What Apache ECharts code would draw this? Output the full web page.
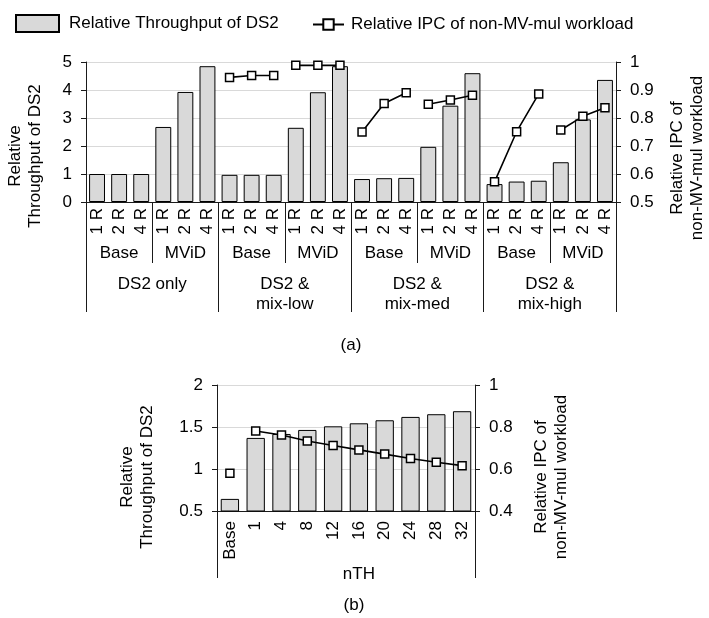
<!DOCTYPE html>
<html><head><meta charset="utf-8">
<script src="https://cdn.jsdelivr.net/npm/echarts@6/dist/echarts.min.js"></script>
<style>html,body{margin:0;padding:0;background:#fff}#c{width:709px;height:618px}</style>
</head><body><div id="c"></div>
<script>
const FONT = '"Liberation Sans", Arial, sans-serif';
const FS = 17;
const INK = '#000';
const AXIS = '#1a1a1a';
const GRIDC = '#d9d9d9';
const BARC = '#d9d9d9';

// ---- chart (a) ----
const replicaLabels = ['1 R', '2 R', '4 R'];
const modeLabels = ['Base', 'MViD'];
const workloadLabels = ['DS2 only', 'DS2 &\nmix-low', 'DS2 &\nmix-med', 'DS2 &\nmix-high'];
const throughputA = [1.00, 1.00, 1.00, 2.68, 3.93, 4.85,
                     0.97, 0.97, 0.97, 2.65, 3.92, 4.85,
                     0.82, 0.85, 0.86, 1.97, 3.44, 4.60,
                     0.64, 0.73, 0.76, 1.42, 2.95, 4.36];
const ipcLowBase  = [0.945, 0.952, 0.952];
const ipcLowMvid  = [0.988, 0.988, 0.988];
const ipcMedBase  = [0.750, 0.852, 0.890];
const ipcMedMvid  = [0.849, 0.864, 0.881];
const ipcHighBase = [0.572, 0.751, 0.886];
const ipcHighMvid = [0.757, 0.806, 0.837];

// ---- chart (b) ----
const nthLabels = ['Base', '1', '4', '8', '12', '16', '20', '24', '28', '32'];
const throughputB = [0.644, 1.37, 1.417, 1.465, 1.508, 1.544, 1.58, 1.62, 1.652, 1.688];
const ipcBBase = [0.58];
const ipcBNth = [0.781, 0.762, 0.733, 0.712, 0.691, 0.671, 0.65, 0.632, 0.616];

const NAME_BAR = 'Relative Throughput of DS2';
const NAME_LINE = 'Relative IPC of non-MV-mul workload';

// build category lists
const catsA = [];
workloadLabels.forEach(() => modeLabels.forEach(() => replicaLabels.forEach(r => catsA.push(r))));
const modesA = [];
workloadLabels.forEach(() => modeLabels.forEach(m => modesA.push(m)));

function placed(len, parts) {
  const arr = new Array(len).fill(null);
  parts.forEach(([start, vals]) => vals.forEach((v, i) => { arr[start + i] = v; }));
  return arr;
}
const ipcBaseSeriesA = placed(24, [[6, ipcLowBase], [12, ipcMedBase], [18, ipcHighBase]]);
const ipcMvidSeriesA = placed(24, [[9, ipcLowMvid], [15, ipcMedMvid], [21, ipcHighMvid]]);
const ipcBaseSeriesB = placed(10, [[0, ipcBBase]]);
const ipcNthSeriesB = placed(10, [[1, ipcBNth]]);
const nthNameCats = nthLabels.map((_, i) => i === 5 ? 'nTH' : '');

const txt = { color: INK, fontFamily: FONT, fontSize: FS };

const lineCommon = {
  type: 'line', name: NAME_LINE, symbol: 'rect', symbolSize: 8,
  connectNulls: false,
  lineStyle: { color: '#000', width: 1.6 },
  itemStyle: { color: '#fff', borderColor: '#000', borderWidth: 1.5 },
  z: 5
};
const barCommon = {
  type: 'bar', name: NAME_BAR,
  itemStyle: { color: BARC, borderColor: '#000', borderWidth: 1 }
};

const yAxisCommon = (extra) => Object.assign({
  type: 'value',
  axisLine: { show: true, lineStyle: { color: AXIS, width: 1 } },
  axisTick: { show: true, length: 5, lineStyle: { color: AXIS } },
  axisLabel: Object.assign({ margin: 14 }, txt),
  splitLine: { show: false }
}, extra);

const option = {
  animation: false,
  backgroundColor: '#fff',
  textStyle: { fontFamily: FONT },
  legend: [
    { data: [NAME_BAR], left: 15, top: 14, padding: 0, icon: 'rect', itemWidth: 43, itemHeight: 17,
      textStyle: Object.assign({ padding: [0, 0, 0, 5] }, txt) },
    { data: [NAME_LINE], left: 312, top: 16, padding: 0, itemWidth: 31, itemHeight: 13,
      textStyle: Object.assign({ padding: [0, 0, 0, 2] }, txt) }
  ],
  grid: [
    { left: 86, top: 62, width: 530, height: 140, containLabel: false, outerBoundsMode: 'none' },
    { left: 217, top: 385, width: 258, height: 126, containLabel: false, outerBoundsMode: 'none' }
  ],
  xAxis: [
    { // 0: replicas
      type: 'category', gridIndex: 0, data: catsA, position: 'bottom',
      axisLine: { show: true, lineStyle: { color: AXIS, width: 1 } },
      axisTick: { show: false },
      axisLabel: Object.assign({ interval: 0, rotate: 90, margin: 6 }, txt)
    },
    { // 1: Base / MViD
      type: 'category', gridIndex: 0, data: modesA, position: 'bottom',
      axisLine: { show: false },
      axisTick: { show: true, interval: 0, length: 61, lineStyle: { color: AXIS } },
      axisLabel: Object.assign({ interval: 0, margin: 41, lineHeight: 20 }, txt)
    },
    { // 2: workloads
      type: 'category', gridIndex: 0, data: workloadLabels, position: 'bottom',
      axisLine: { show: false },
      axisTick: { show: true, interval: 0, length: 110, lineStyle: { color: AXIS } },
      axisLabel: Object.assign({ interval: 0, margin: 72, lineHeight: 20 }, txt)
    },
    { // 3: nTH values
      type: 'category', gridIndex: 1, data: nthLabels, position: 'bottom',
      axisLine: { show: true, lineStyle: { color: AXIS, width: 1 } },
      axisTick: { show: false },
      axisLabel: Object.assign({ interval: 0, rotate: 90, margin: 10 }, txt)
    },
    { // 4: separator + nTH name
      type: 'category', gridIndex: 1, data: nthNameCats, position: 'bottom',
      axisLine: { show: false },
      axisTick: { show: true, interval: (i) => i === 1, length: 67, lineStyle: { color: AXIS } },
      splitLine: { show: true, interval: (i) => i === 1, lineStyle: { color: AXIS, width: 1 } },
      axisLabel: Object.assign({ interval: 0, margin: 55 }, txt)
    }
  ],
  yAxis: [
    yAxisCommon({ gridIndex: 0, position: 'left', min: 0, max: 5, interval: 1,
      splitLine: { show: true, lineStyle: { color: GRIDC, width: 1 } } }),
    yAxisCommon({ gridIndex: 0, position: 'right', min: 0.5, max: 1, interval: 0.1 }),
    yAxisCommon({ gridIndex: 1, position: 'left', min: 0.5, max: 2, interval: 0.5,
      splitLine: { show: true, lineStyle: { color: GRIDC, width: 1 } } }),
    yAxisCommon({ gridIndex: 1, position: 'right', min: 0.4, max: 1, interval: 0.2 })
  ],
  series: [
    Object.assign({}, barCommon, { xAxisIndex: 0, yAxisIndex: 0, data: throughputA, barCategoryGap: '28%' }),
    Object.assign({}, lineCommon, { xAxisIndex: 0, yAxisIndex: 1, data: ipcBaseSeriesA }),
    Object.assign({}, lineCommon, { xAxisIndex: 0, yAxisIndex: 1, data: ipcMvidSeriesA }),
    Object.assign({}, barCommon, { xAxisIndex: 3, yAxisIndex: 2, data: throughputB, barCategoryGap: '29%' }),
    Object.assign({}, lineCommon, { xAxisIndex: 3, yAxisIndex: 3, data: ipcBaseSeriesB }),
    Object.assign({}, lineCommon, { xAxisIndex: 3, yAxisIndex: 3, data: ipcNthSeriesB })
  ],
  graphic: [
    { type: 'text', x: 25, y: 156, rotation: Math.PI / 2,
      style: { text: 'Relative\nThroughput of DS2', font: FS + 'px ' + FONT, fill: INK, align: 'center', verticalAlign: 'middle', lineHeight: 20 } },
    { type: 'text', x: 687, y: 158, rotation: Math.PI / 2,
      style: { text: 'Relative IPC of\nnon-MV-mul workload', font: FS + 'px ' + FONT, fill: INK, align: 'center', verticalAlign: 'middle', lineHeight: 20 } },
    { type: 'text', x: 137, y: 477, rotation: Math.PI / 2,
      style: { text: 'Relative\nThroughput of DS2', font: FS + 'px ' + FONT, fill: INK, align: 'center', verticalAlign: 'middle', lineHeight: 20 } },
    { type: 'text', x: 551, y: 477, rotation: Math.PI / 2,
      style: { text: 'Relative IPC of\nnon-MV-mul workload', font: FS + 'px ' + FONT, fill: INK, align: 'center', verticalAlign: 'middle', lineHeight: 20 } },
    { type: 'text', x: 351, y: 345,
      style: { text: '(a)', font: FS + 'px ' + FONT, fill: INK, align: 'center', verticalAlign: 'middle' } },
    { type: 'text', x: 354, y: 605,
      style: { text: '(b)', font: FS + 'px ' + FONT, fill: INK, align: 'center', verticalAlign: 'middle' } }
  ]
};

const chart = echarts.init(document.getElementById('c'), null, { renderer: 'canvas' });
chart.setOption(option);
</script>
</body></html>
